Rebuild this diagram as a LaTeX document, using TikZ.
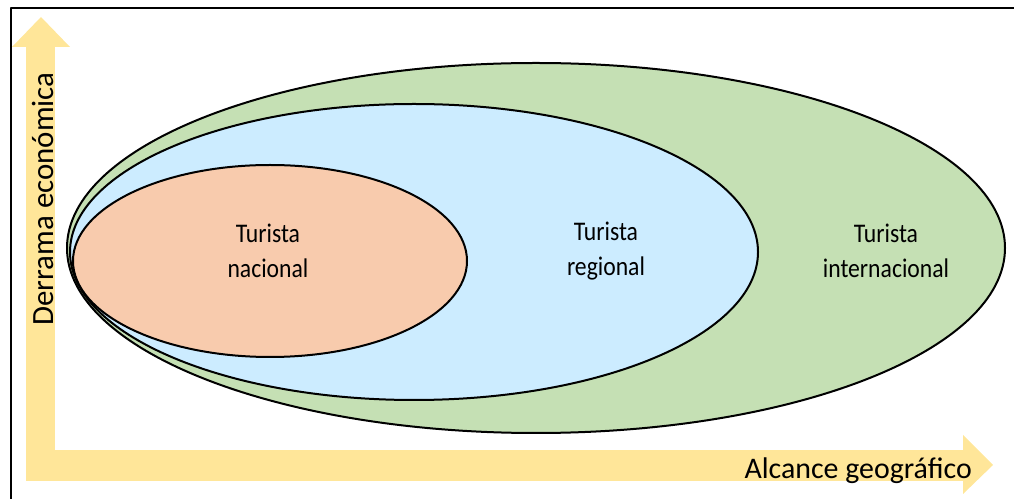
\documentclass[tikz,border=0pt]{standalone}
\usepackage{fontspec}
\setmainfont{Carlito}
\newfontfamily\zonefont{Carlito}[FakeStretch=0.88]
\definecolor{axisyellow}{HTML}{FFE699}
\definecolor{intgreen}{HTML}{C5E0B4}
\definecolor{regblue}{HTML}{CCECFF}
\definecolor{nacorange}{HTML}{F8CBAD}
\tikzset{
  zone/.style={draw=black,line width=2bp},
  zonelabel/.style={draw=none,align=center,font=\zonefont\fontsize{27}{35}\selectfont},
  axislabel/.style={draw=none,inner sep=0pt,font=\fontsize{30}{36}\selectfont},
}
\begin{document}
\begin{tikzpicture}[line join=round]
\useasboundingbox (0bp,0bp) rectangle (1014bp,499bp);
%% frame
\draw [black,line width=2bp] (11bp,0bp) -- (11bp,491bp) -- (1014bp,491bp);
%% axes
\fill [axisyellow] (26bp,18bp) rectangle (55bp,452bp);
\fill [axisyellow] (12bp,452bp) -- (41bp,482bp) -- (70bp,452bp) -- cycle;
\fill [axisyellow] (26bp,18bp) rectangle (963bp,49bp);
\fill [axisyellow] (963bp,64bp) -- (993bp,34bp) -- (963bp,5bp) -- cycle;
%% zones
\draw [zone,fill=intgreen] (536bp,251bp) ellipse [x radius=469bp,y radius=185bp];
\draw [zone,fill=regblue] (414bp,247bp) ellipse [x radius=344bp,y radius=148bp];
\draw [zone,fill=nacorange] (270bp,238bp) ellipse [x radius=197bp,y radius=96bp];
%%
\node (node_0) at (268bp,248bp) [zonelabel] {Turista\\nacional};
  \node (node_1) at (606bp,248bp) [zonelabel] {Turista\\regional};
  \node (node_2) at (886bp,248bp) [zonelabel] {Turista\\internacional};
  \node (node_3) at (53bp,300bp) [axislabel,font=\fontsize{31}{36}\selectfont,rotate=90,anchor=base] {Derrama económica};
  \node (node_4) at (972bp,21bp) [axislabel,anchor=base east] {Alcance geográfico};
%
\end{tikzpicture}
\end{document}
